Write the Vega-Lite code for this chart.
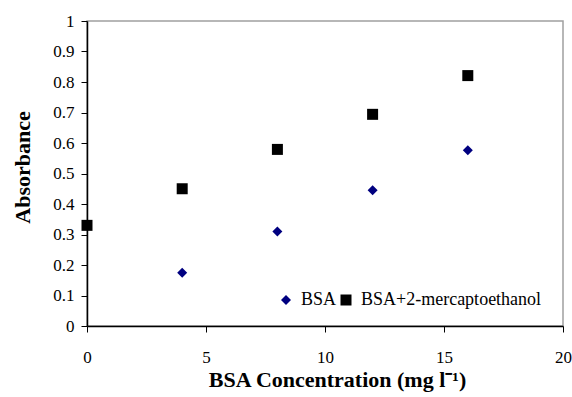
{
  "$schema": "https://vega.github.io/schema/vega-lite/v6.json",
  "autosize": "none",
  "width": 476,
  "height": 305,
  "padding": {"left": 87, "top": 21, "right": 9, "bottom": 71},
  "background": "white",
  "config": {
    "view": {"stroke": "#a0a0a0", "strokeWidth": 1.5},
    "font": "Liberation Serif",
    "legend": {
      "title": null,
      "orient": "none",
      "direction": "horizontal",
      "legendX": 190,
      "legendY": 270,
      "labelFont": "Liberation Serif",
      "labelFontSize": 18,
      "labelColor": "black",
      "labelLimit": 400,
      "columnPadding": 0,
      "labelOffset": 6
    }
  },
  "data": {
    "values": [
      {"conc": 4, "abs": 0.175, "series": "BSA"},
      {"conc": 8, "abs": 0.31, "series": "BSA"},
      {"conc": 12, "abs": 0.445, "series": "BSA"},
      {"conc": 16, "abs": 0.576, "series": "BSA"},
      {"conc": 0, "abs": 0.33, "series": "BSA+2-mercaptoethanol"},
      {"conc": 4, "abs": 0.45, "series": "BSA+2-mercaptoethanol"},
      {"conc": 8, "abs": 0.579, "series": "BSA+2-mercaptoethanol"},
      {"conc": 12, "abs": 0.694, "series": "BSA+2-mercaptoethanol"},
      {"conc": 16, "abs": 0.821, "series": "BSA+2-mercaptoethanol"}
    ]
  },
  "mark": {"type": "point", "filled": true, "opacity": 1},
  "encoding": {
    "x": {
      "field": "conc",
      "type": "quantitative",
      "scale": {"domain": [0, 20], "nice": false, "zero": true},
      "axis": {
        "title": "BSA Concentration (mg l⁻¹)",
        "values": [0, 5, 10, 15, 20],
        "grid": false,
        "domainColor": "black",
        "domainWidth": 1.5,
        "tickColor": "black",
        "tickSize": 6,
        "labelFont": "Liberation Serif",
        "labelFontSize": 17,
        "labelColor": "black",
        "labelPadding": 17,
        "labelFlush": false,
        "titleFont": "Liberation Serif",
        "titleFontSize": 22,
        "titleFontWeight": "bold",
        "titleColor": "black",
        "titlePadding": 4,
        "titleX": 250
      }
    },
    "y": {
      "field": "abs",
      "type": "quantitative",
      "scale": {"domain": [0, 1], "nice": false},
      "axis": {
        "title": "Absorbance",
        "values": [0, 0.1, 0.2, 0.3, 0.4, 0.5, 0.6, 0.7, 0.8, 0.9, 1],
        "format": "~g",
        "grid": false,
        "domainColor": "black",
        "domainWidth": 1.5,
        "tickColor": "black",
        "tickSize": 6,
        "labelFont": "Liberation Serif",
        "labelFontSize": 17,
        "labelColor": "black",
        "labelPadding": 7,
        "labelFlush": false,
        "titleFont": "Liberation Serif",
        "titleFontSize": 22,
        "titleFontWeight": "bold",
        "titleColor": "black",
        "titlePadding": 18,
        "titleY": 146
      }
    },
    "shape": {
      "field": "series",
      "type": "nominal",
      "scale": {"domain": ["BSA", "BSA+2-mercaptoethanol"], "range": ["diamond", "square"]}
    },
    "color": {
      "field": "series",
      "type": "nominal",
      "scale": {"domain": ["BSA", "BSA+2-mercaptoethanol"], "range": ["#000080", "#000000"]}
    },
    "size": {
      "field": "series",
      "type": "nominal",
      "scale": {"domain": ["BSA", "BSA+2-mercaptoethanol"], "range": [100, 121]}
    }
  }
}
